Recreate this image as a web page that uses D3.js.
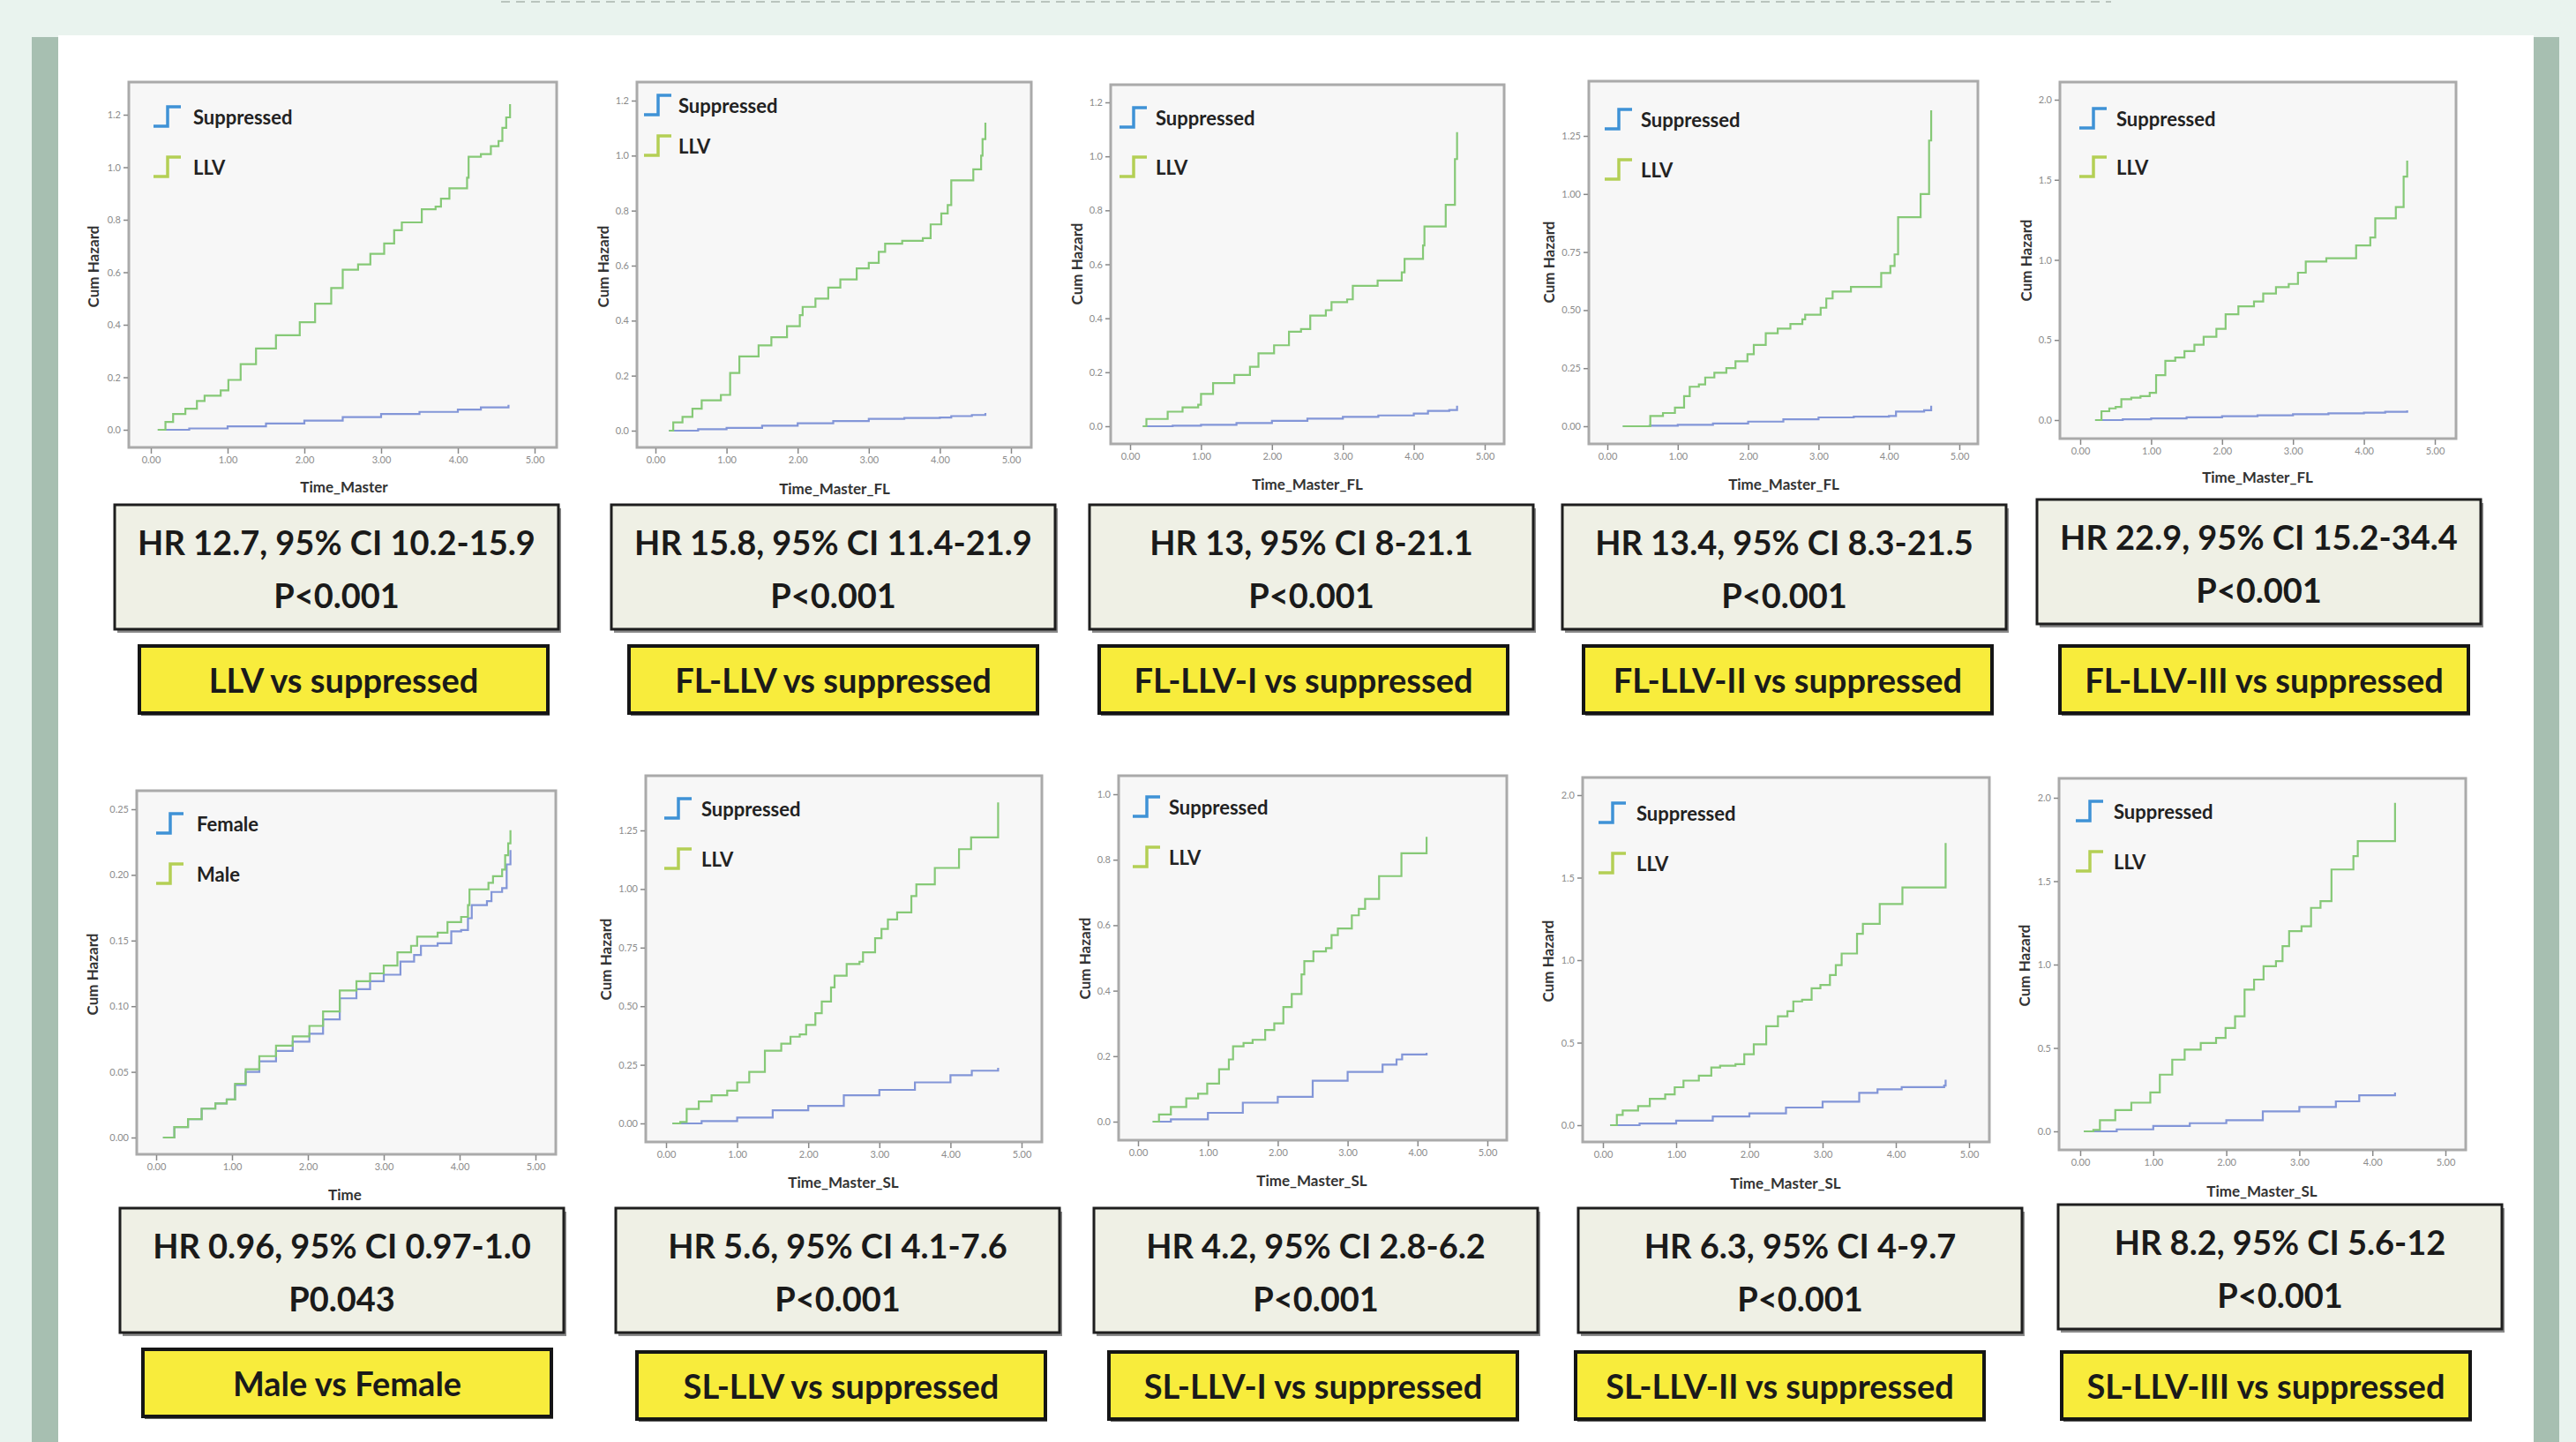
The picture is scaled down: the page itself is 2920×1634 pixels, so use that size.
<!DOCTYPE html>
<html>
<head>
<meta charset="utf-8">
<script src="https://cdn.jsdelivr.net/npm/d3@7"></script>
<style>
  body { margin: 0; background: #e9f3ee; }
  svg { display: block; }
</style>
</head>
<body>
<div id="chart"></div>
<script>
const W = 2920, H = 1634;

// cumulative hazard curves, [time, cum hazard]
const p1Sup = [[0.09,0],[0.5,0.005],[1,0.013],[1.5,0.024],[2,0.035],[2.5,0.048],[3,0.06],[3.5,0.068],[4,0.077],[4.3,0.085],[4.66,0.095]];
const p1Llv = [[0.09,0],[0.19,0.03],[0.29,0.06],[0.45,0.08],[0.6,0.11],[0.7,0.13],[0.91,0.15],[1.01,0.19],[1.17,0.25],[1.37,0.31],[1.63,0.36],[1.94,0.41],[2.14,0.48],[2.35,0.54],[2.5,0.61],[2.7,0.63],[2.86,0.67],[3.04,0.71],[3.17,0.76],[3.27,0.79],[3.53,0.84],[3.71,0.85],[3.78,0.88],[3.89,0.92],[4.12,0.96],[4.14,1.04],[4.3,1.05],[4.43,1.08],[4.53,1.1],[4.58,1.15],[4.63,1.19],[4.68,1.24]];

const p2Sup = [[0.19,0],[0.6,0.005],[1,0.01],[1.5,0.018],[2,0.027],[2.5,0.035],[3,0.043],[3.5,0.046],[4,0.048],[4.16,0.053],[4.45,0.057],[4.64,0.064]];
const p2Llv = [[0.19,0],[0.25,0.03],[0.38,0.05],[0.52,0.08],[0.65,0.11],[0.92,0.13],[1.05,0.21],[1.18,0.27],[1.45,0.31],[1.63,0.34],[1.85,0.38],[2.03,0.42],[2.07,0.45],[2.25,0.48],[2.43,0.52],[2.6,0.55],[2.83,0.59],[3.0,0.61],[3.14,0.65],[3.23,0.68],[3.47,0.69],[3.76,0.7],[3.87,0.75],[4.02,0.79],[4.11,0.82],[4.16,0.91],[4.47,0.95],[4.58,1.0],[4.6,1.06],[4.64,1.12]];

const p3Sup = [[0.18,0],[0.6,0.002],[1,0.005],[1.5,0.012],[2,0.02],[2.5,0.028],[3,0.035],[3.5,0.04],[4,0.047],[4.2,0.057],[4.5,0.06],[4.61,0.076]];
const p3Llv = [[0.18,0],[0.23,0.027],[0.53,0.054],[0.74,0.07],[0.96,0.08],[1.0,0.12],[1.17,0.16],[1.47,0.19],[1.69,0.22],[1.81,0.27],[2.03,0.3],[2.24,0.35],[2.41,0.36],[2.54,0.41],[2.76,0.43],[2.84,0.46],[3.06,0.47],[3.14,0.52],[3.49,0.54],[3.83,0.57],[3.87,0.62],[4.13,0.67],[4.15,0.74],[4.45,0.82],[4.58,0.99],[4.61,1.09]];

const p4Sup = [[0.22,0],[0.6,0.002],[1,0.006],[1.5,0.012],[2,0.02],[2.5,0.03],[3,0.038],[3.5,0.041],[4,0.044],[4.1,0.063],[4.5,0.069],[4.6,0.088]];
const p4Llv = [[0.22,0],[0.61,0.044],[0.79,0.057],[0.96,0.08],[1.09,0.13],[1.17,0.17],[1.3,0.18],[1.39,0.21],[1.52,0.23],[1.69,0.25],[1.82,0.28],[1.99,0.31],[2.08,0.35],[2.25,0.4],[2.42,0.42],[2.6,0.44],[2.77,0.46],[2.81,0.48],[3.03,0.51],[3.11,0.55],[3.2,0.58],[3.46,0.6],[3.89,0.66],[4.02,0.69],[4.08,0.74],[4.13,0.9],[4.45,1.0],[4.57,1.23],[4.6,1.36]];

const p5Sup = [[0.21,0],[0.6,0.005],[1,0.01],[1.5,0.017],[2,0.024],[2.5,0.03],[3,0.037],[3.5,0.042],[4,0.046],[4.3,0.052],[4.61,0.06]];
const p5Llv = [[0.21,0],[0.3,0.055],[0.41,0.073],[0.5,0.082],[0.58,0.13],[0.72,0.14],[0.85,0.15],[0.98,0.17],[1.07,0.28],[1.2,0.37],[1.34,0.39],[1.47,0.43],[1.61,0.47],[1.74,0.52],[1.92,0.57],[2.05,0.66],[2.23,0.71],[2.45,0.74],[2.58,0.79],[2.76,0.83],[2.94,0.85],[3.07,0.92],[3.18,0.99],[3.47,1.01],[3.89,1.09],[4.09,1.14],[4.16,1.26],[4.45,1.33],[4.56,1.52],[4.61,1.62]];

const p6Female = [[0.09,0],[0.24,0.008],[0.42,0.014],[0.6,0.022],[0.78,0.026],[0.93,0.029],[1.04,0.04],[1.18,0.05],[1.36,0.058],[1.58,0.066],[1.8,0.073],[2.02,0.079],[2.2,0.09],[2.42,0.106],[2.64,0.113],[2.82,0.119],[3.0,0.124],[3.22,0.134],[3.4,0.139],[3.49,0.146],[3.71,0.148],[3.89,0.157],[4.02,0.158],[4.11,0.167],[4.16,0.177],[4.36,0.18],[4.42,0.187],[4.56,0.19],[4.62,0.208],[4.67,0.219]];
const p6Male = [[0.09,0],[0.18,0],[0.24,0.008],[0.42,0.014],[0.6,0.022],[0.78,0.026],[0.93,0.029],[1.04,0.041],[1.18,0.052],[1.36,0.062],[1.58,0.07],[1.8,0.077],[2.02,0.085],[2.2,0.096],[2.42,0.112],[2.64,0.119],[2.82,0.125],[3.0,0.131],[3.18,0.141],[3.36,0.146],[3.44,0.153],[3.71,0.156],[3.84,0.164],[4.02,0.168],[4.11,0.177],[4.13,0.189],[4.38,0.194],[4.44,0.199],[4.56,0.204],[4.6,0.215],[4.64,0.224],[4.67,0.234]];

const p7Sup = [[0.09,0],[0.5,0.01],[1,0.025],[1.5,0.056],[2,0.075],[2.5,0.12],[3,0.143],[3.5,0.175],[4,0.206],[4.3,0.225],[4.67,0.237]];
const p7Llv = [[0.09,0],[0.2,0.006],[0.29,0.062],[0.46,0.094],[0.64,0.12],[0.86,0.14],[1.0,0.175],[1.17,0.22],[1.39,0.31],[1.62,0.34],[1.75,0.37],[1.88,0.38],[1.97,0.42],[2.1,0.47],[2.19,0.52],[2.32,0.58],[2.37,0.63],[2.54,0.68],[2.72,0.69],[2.77,0.73],[2.94,0.79],[3.03,0.83],[3.12,0.87],[3.25,0.9],[3.45,0.97],[3.52,1.02],[3.78,1.09],[4.12,1.17],[4.29,1.22],[4.67,1.37]];

const p8Sup = [[0.21,0],[0.47,0.007],[1,0.027],[1.5,0.058],[2,0.076],[2.5,0.125],[3,0.152],[3.5,0.174],[3.7,0.19],[3.78,0.205],[4.13,0.21]];
const p8Llv = [[0.21,0],[0.3,0.022],[0.47,0.045],[0.69,0.071],[0.86,0.085],[0.99,0.116],[1.16,0.16],[1.3,0.19],[1.36,0.23],[1.51,0.24],[1.64,0.25],[1.82,0.28],[1.95,0.3],[2.08,0.35],[2.2,0.39],[2.34,0.45],[2.38,0.49],[2.51,0.52],[2.69,0.53],[2.77,0.57],[2.86,0.59],[3.06,0.63],[3.16,0.65],[3.25,0.68],[3.45,0.75],[3.77,0.82],[4.13,0.87]];

const p9Sup = [[0.1,0],[0.5,0.01],[1,0.027],[1.5,0.053],[2,0.071],[2.5,0.107],[3,0.142],[3.5,0.196],[3.75,0.217],[4.08,0.231],[4.66,0.24],[4.68,0.276]];
const p9Llv = [[0.1,0],[0.19,0.062],[0.27,0.089],[0.48,0.116],[0.64,0.16],[0.85,0.187],[0.98,0.23],[1.1,0.27],[1.31,0.3],[1.48,0.35],[1.6,0.36],[1.81,0.37],[1.93,0.43],[2.06,0.49],[2.23,0.6],[2.39,0.66],[2.52,0.69],[2.6,0.75],[2.72,0.76],[2.85,0.83],[2.97,0.85],[3.1,0.91],[3.18,0.97],[3.26,1.04],[3.47,1.16],[3.55,1.22],[3.78,1.34],[4.09,1.44],[4.68,1.71]];

const p10Sup = [[0.05,0],[0.5,0.012],[1,0.032],[1.5,0.049],[2,0.067],[2.5,0.12],[3,0.146],[3.5,0.18],[3.82,0.216],[4.31,0.233]];
const p10Llv = [[0.05,0],[0.18,0.009],[0.27,0.067],[0.48,0.128],[0.7,0.172],[0.96,0.233],[1.09,0.34],[1.26,0.43],[1.43,0.49],[1.65,0.53],[1.86,0.56],[1.99,0.62],[2.12,0.69],[2.25,0.85],[2.38,0.91],[2.51,0.99],[2.68,1.02],[2.77,1.11],[2.86,1.2],[3.03,1.23],[3.16,1.34],[3.29,1.38],[3.44,1.57],[3.74,1.65],[3.8,1.74],[4.31,1.97]];

const blueSeries = [p1Sup, p2Sup, p3Sup, p4Sup, p5Sup, p6Female, p7Sup, p8Sup, p9Sup, p10Sup];
const greenSeries = [p1Llv, p2Llv, p3Llv, p4Llv, p5Llv, p6Male, p7Llv, p8Llv, p9Llv, p10Llv];

const groupNames = [
  ["Suppressed","LLV"],["Suppressed","LLV"],["Suppressed","LLV"],["Suppressed","LLV"],["Suppressed","LLV"],
  ["Female","Male"],["Suppressed","LLV"],["Suppressed","LLV"],["Suppressed","LLV"],["Suppressed","LLV"]
];
const xTitles = ["Time_Master","Time_Master_FL","Time_Master_FL","Time_Master_FL","Time_Master_FL",
  "Time","Time_Master_SL","Time_Master_SL","Time_Master_SL","Time_Master_SL"];
const xTicks = [0, 1, 2, 3, 4, 5];
// y axis: top tick value and step
const yMax = [1.2, 1.2, 1.2, 1.25, 2.0, 0.25, 1.25, 1.0, 2.0, 2.0];
const yStep = [0.2, 0.2, 0.2, 0.25, 0.5, 0.05, 0.25, 0.2, 0.5, 0.5];
const yFormat = [".1f", ".1f", ".1f", ".2f", ".1f", ".2f", ".2f", ".1f", ".1f", ".1f"];

const hrText = ["HR 12.7, 95% CI 10.2-15.9","HR 15.8, 95% CI 11.4-21.9","HR 13, 95% CI 8-21.1",
  "HR 13.4, 95% CI 8.3-21.5","HR 22.9, 95% CI 15.2-34.4","HR 0.96, 95% CI 0.97-1.0",
  "HR 5.6, 95% CI 4.1-7.6","HR 4.2, 95% CI 2.8-6.2","HR 6.3, 95% CI 4-9.7","HR 8.2, 95% CI 5.6-12"];
const pText = ["P<0.001","P<0.001","P<0.001","P<0.001","P<0.001","P0.043","P<0.001","P<0.001","P<0.001","P<0.001"];
const comparisons = ["LLV vs suppressed","FL-LLV vs suppressed","FL-LLV-I vs suppressed","FL-LLV-II vs suppressed",
  "FL-LLV-III vs suppressed","Male vs Female","SL-LLV vs suppressed","SL-LLV-I vs suppressed",
  "SL-LLV-II vs suppressed","SL-LLV-III vs suppressed"];

// panel geometry: frame box, pixel of t=0 / t=5, pixel of y=0 / y=max, titles, legend
const layout = [
  {fx0:146, fx1:631, fy0:93, fy1:507, x0:171, x5:606, y0:487, yT:130, xt:[390,551], yt:[105,302], ic:174, tx:219, rows:[132,189]},
  {fx0:722, fx1:1169, fy0:93, fy1:507, x0:743, x5:1146, y0:488, yT:114, xt:[946,553], yt:[683,302], ic:730, tx:769, rows:[119,165]},
  {fx0:1259, fx1:1705, fy0:96, fy1:503, x0:1281, x5:1683, y0:483, yT:116, xt:[1482,548], yt:[1220,299], ic:1269, tx:1310, rows:[133,189]},
  {fx0:1801, fx1:2242, fy0:92, fy1:503, x0:1822, x5:2221, y0:483, yT:154, xt:[2022,548], yt:[1755,297], ic:1819, tx:1860, rows:[135,192]},
  {fx0:2335, fx1:2784, fy0:93, fy1:497, x0:2358, x5:2760, y0:476, yT:113, xt:[2559,540], yt:[2296,295], ic:2357, tx:2399, rows:[134,189]},
  {fx0:155, fx1:630, fy0:896, fy1:1308, x0:177, x5:607, y0:1289, yT:917, xt:[391,1353], yt:[104,1104], ic:177, tx:223, rows:[933,990]},
  {fx0:732, fx1:1181, fy0:879, fy1:1294, x0:755, x5:1158, y0:1273, yT:941, xt:[956,1339], yt:[686,1087], ic:753, tx:795, rows:[916,973]},
  {fx0:1268, fx1:1708, fy0:879, fy1:1292, x0:1290, x5:1686, y0:1271, yT:900, xt:[1487,1337], yt:[1229,1086], ic:1284, tx:1325, rows:[914,971]},
  {fx0:1794, fx1:2255, fy0:881, fy1:1294, x0:1817, x5:2232, y0:1275, yT:901, xt:[2024,1340], yt:[1754,1089], ic:1812, tx:1855, rows:[921,978]},
  {fx0:2334, fx1:2795, fy0:882, fy1:1303, x0:2358, x5:2772, y0:1282, yT:904, xt:[2564,1349], yt:[2294,1094], ic:2353, tx:2396, rows:[919,976]}
];
const statBoxes = [[130,572],[693,572],[1235,572],[1771,572],[2309,566],[136,1369],[698,1369],[1240,1369],[1789,1369],[2333,1365]];
const yellowBoxes = [[158,732],[713,732],[1246,732],[1795,732],[2335,732],[162,1529],[722,1532],[1257,1532],[1786,1532],[2337,1532]];

const FONT = "Lato, 'Open Sans', sans-serif";

const svg = d3.select('#chart').append('svg')
  .attr('width', W)
  .attr('height', H)
  .style('font-family', FONT);

// page background
svg.append('rect').attr('width', W).attr('height', H).attr('fill', '#e9f3ee');
svg.append('line')
  .attr('x1', 568).attr('x2', 2393).attr('y1', 2).attr('y2', 2)
  .attr('stroke', '#b9c4bd').attr('stroke-width', 2).attr('stroke-dasharray', '10,7');
svg.append('rect').attr('x', 36).attr('y', 42).attr('width', 30).attr('height', H - 42).attr('fill', '#a7bfb1');
svg.append('rect').attr('x', 2872).attr('y', 42).attr('width', 29).attr('height', H - 42).attr('fill', '#a7bfb1');
svg.append('rect').attr('x', 66).attr('y', 40).attr('width', 2806).attr('height', H - 40).attr('fill', '#ffffff');

const defs = svg.append('defs');

layout.forEach((L, i) => {
  const g = svg.append('g');
  const x = d3.scaleLinear().domain([0, 5]).range([L.x0, L.x5]);
  const y = d3.scaleLinear().domain([0, yMax[i]]).range([L.y0, L.yT]);

  // plot area
  g.append('rect')
    .attr('x', L.fx0).attr('y', L.fy0)
    .attr('width', L.fx1 - L.fx0).attr('height', L.fy1 - L.fy0)
    .attr('fill', '#f7f7f7')
    .attr('stroke', '#aaaaaa').attr('stroke-width', 3);

  const yTicks = d3.range(0, yMax[i] + yStep[i] / 2, yStep[i]);
  const yAxis = g.append('g')
    .attr('transform', `translate(${L.fx0 - 1},0)`)
    .call(d3.axisLeft(y).tickValues(yTicks).tickFormat(d3.format(yFormat[i])).tickSize(5).tickPadding(3));
  const xAxis = g.append('g')
    .attr('transform', `translate(0,${L.fy1 + 1})`)
    .call(d3.axisBottom(x).tickValues(xTicks).tickFormat(d3.format('.2f')).tickSize(6).tickPadding(3));
  [yAxis, xAxis].forEach(a => {
    a.select('.domain').remove();
    a.selectAll('.tick line').attr('stroke', '#888').attr('stroke-width', 1.5);
    a.selectAll('.tick text').attr('fill', '#8c8c8c').style('font-size', '11px').style('font-family', FONT);
  });

  // titles
  g.append('text')
    .attr('x', L.xt[0]).attr('y', L.xt[1])
    .attr('text-anchor', 'middle').attr('dominant-baseline', 'central')
    .attr('fill', '#333').style('font-size', '17px').style('font-weight', 700)
    .text(xTitles[i]);
  g.append('text')
    .attr('transform', `translate(${L.yt[0]},${L.yt[1]}) rotate(-90)`)
    .attr('text-anchor', 'middle').attr('dominant-baseline', 'central')
    .attr('fill', '#333').style('font-size', '17px').style('font-weight', 700)
    .text('Cum Hazard');

  // curves
  const clipId = 'clip' + i;
  defs.append('clipPath').attr('id', clipId)
    .append('rect')
    .attr('x', L.fx0 + 2).attr('y', L.fy0 + 2)
    .attr('width', L.fx1 - L.fx0 - 4).attr('height', L.fy1 - L.fy0 - 4);
  const line = d3.line()
    .x(d => x(d[0]))
    .y(d => y(d[1]))
    .curve(d3.curveStepAfter);
  const curves = g.append('g').attr('clip-path', `url(#${clipId})`);
  curves.append('path').datum(blueSeries[i])
    .attr('d', line).attr('fill', 'none')
    .attr('stroke', '#8396d8').attr('stroke-width', 2.2);
  curves.append('path').datum(greenSeries[i])
    .attr('d', line).attr('fill', 'none')
    .attr('stroke', '#86c977').attr('stroke-width', 2.2);

  // legend
  const legendColors = ['#3f92d6', '#b4cf55'];
  groupNames[i].forEach((name, k) => {
    const cy = L.rows[k];
    g.append('path')
      .attr('d', `M${L.ic},${cy + 11}H${L.ic + 16}V${cy - 11}H${L.ic + 31}`)
      .attr('fill', 'none')
      .attr('stroke', legendColors[k]).attr('stroke-width', 3.5);
    g.append('text')
      .attr('x', L.tx).attr('y', cy)
      .attr('dominant-baseline', 'central')
      .attr('fill', '#222').style('font-size', '22px').style('font-weight', 700)
      .text(name);
  });

  // statistics box
  const [sx, sy] = statBoxes[i];
  const sw = 503, sh = 141;
  g.append('rect').attr('x', sx + 3).attr('y', sy + 4).attr('width', sw).attr('height', sh).attr('fill', '#8a8a8a');
  g.append('rect').attr('x', sx).attr('y', sy).attr('width', sw).attr('height', sh)
    .attr('fill', '#eff0e5').attr('stroke', '#1e1e1e').attr('stroke-width', 3);
  g.append('text')
    .attr('x', sx + sw / 2).attr('y', sy + 42)
    .attr('text-anchor', 'middle').attr('dominant-baseline', 'central')
    .attr('fill', '#1a1a1a').style('font-size', '38px').style('font-weight', 700)
    .text(hrText[i]);
  g.append('text')
    .attr('x', sx + sw / 2).attr('y', sy + 102)
    .attr('text-anchor', 'middle').attr('dominant-baseline', 'central')
    .attr('fill', '#1a1a1a').style('font-size', '38px').style('font-weight', 700)
    .text(pText[i]);

  // comparison label
  const [bx, by] = yellowBoxes[i];
  const bw = 463, bh = 76;
  g.append('rect').attr('x', bx + 2).attr('y', by + 3).attr('width', bw).attr('height', bh).attr('fill', '#666');
  g.append('rect').attr('x', bx).attr('y', by).attr('width', bw).attr('height', bh)
    .attr('fill', '#f8ec3c').attr('stroke', '#151515').attr('stroke-width', 4);
  g.append('text')
    .attr('x', bx + bw / 2).attr('y', by + bh / 2)
    .attr('text-anchor', 'middle').attr('dominant-baseline', 'central')
    .attr('fill', '#1a1a1a').style('font-size', '38px').style('font-weight', 700)
    .text(comparisons[i]);
});
</script>
</body>
</html>
